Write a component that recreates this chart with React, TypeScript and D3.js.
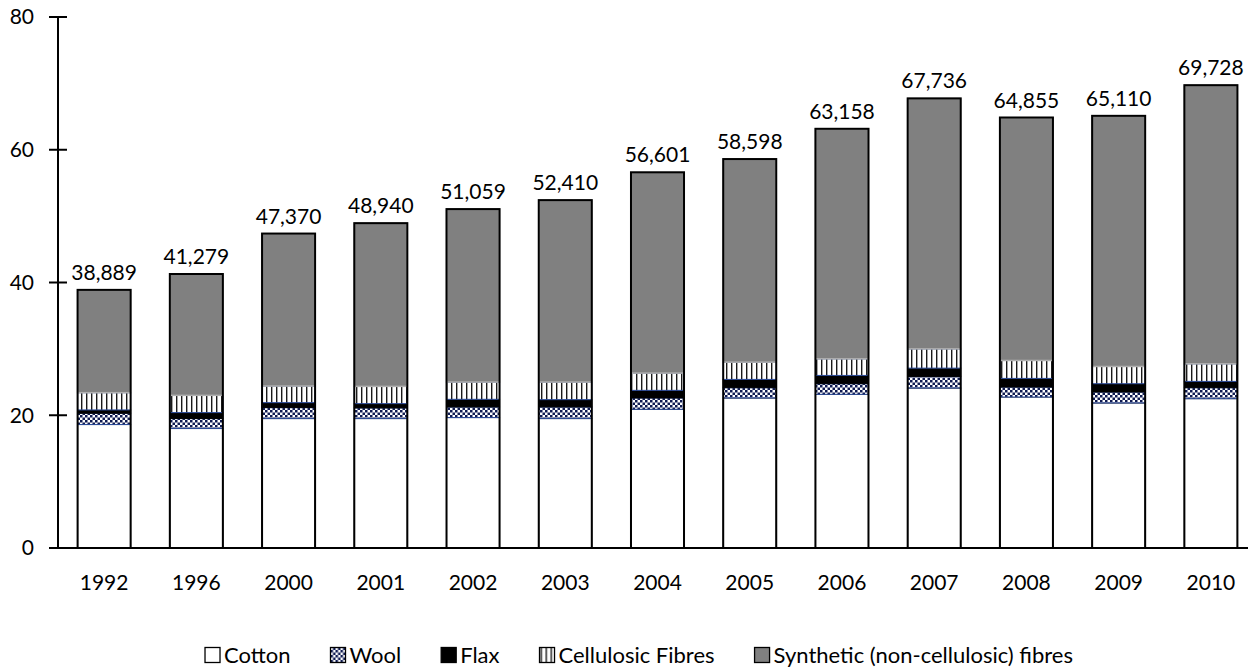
// World fibre consumption, stacked by fibre type (million tonnes).
// d3 draws everything into one svg through a ref; legend is laid out after
// measuring text so it centres the same way the source chart does.
import { useEffect, useRef } from "react";
import * as d3 from "d3";

const YEARS = ["1992", "1996", "2000", "2001", "2002", "2003", "2004", "2005", "2006", "2007", "2008", "2009", "2010"];
const FIBRES = ["Cotton", "Wool", "Flax", "Cellulosic Fibres", "Synthetic (non-cellulosic) fibres"];

const COTTON = [18.6, 18.0, 19.5, 19.5, 19.65, 19.5, 20.9, 22.6, 23.15, 24.1, 22.75, 21.85, 22.5];
const WOOL = [1.7, 1.5, 1.65, 1.6, 1.6, 1.75, 1.7, 1.55, 1.6, 1.75, 1.5, 1.65, 1.65];
const FLAX = [0.5, 0.9, 0.75, 0.65, 1.15, 1.1, 1.15, 1.25, 1.25, 1.25, 1.3, 1.25, 0.95];
const CELLULOSIC = [2.6, 2.6, 2.5, 2.6, 2.6, 2.65, 2.6, 2.6, 2.5, 2.9, 2.7, 2.6, 2.65];
const TOTALS = [38.889, 41.279, 47.37, 48.94, 51.059, 52.41, 56.601, 58.598, 63.158, 67.736, 64.855, 65.11, 69.728];
// synthetic is read as the remainder up to the printed total
const SYNTHETIC = [15.49, 18.28, 22.97, 24.59, 26.06, 27.41, 30.25, 30.6, 34.66, 37.74, 36.6, 37.76, 41.98];

const Y_TICKS = [0, 20, 40, 60, 80];

const FONT = "Lato, 'Open Sans', sans-serif";

export default function App() {
  const svgRef = useRef<SVGSVGElement>(null);

  useEffect(() => {
    const node = svgRef.current;
    if (!node) return;
    const svg = d3.select(node);
    svg.selectAll("*").remove();

    const W = 1248;
    const H = 670;

    const x = d3.scaleBand<string>().domain(YEARS).range([58, 1257]).paddingInner(0.425).paddingOuter(0.2125);
    const y = d3.scaleLinear().domain([0, 80]).range([548, 17]);

    // patterns
    const defs = svg.append("defs");
    const wool = defs.append("pattern").attr("id", "wool").attr("patternUnits", "userSpaceOnUse").attr("width", 5).attr("height", 5);
    wool.append("rect").attr("width", 5).attr("height", 5).attr("fill", "#ffffff");
    wool.append("rect").attr("x", 0).attr("y", 0).attr("width", 2.5).attr("height", 2.5).attr("fill", "#0f1b52");
    wool.append("rect").attr("x", 2.5).attr("y", 2.5).attr("width", 2.5).attr("height", 2.5).attr("fill", "#0f1b52");

    const cell = defs.append("pattern").attr("id", "cell").attr("patternUnits", "userSpaceOnUse").attr("width", 5).attr("height", 5);
    cell.append("rect").attr("width", 5).attr("height", 5).attr("fill", "#ffffff");
    cell.append("rect").attr("x", 1).attr("width", 1.4).attr("height", 5).attr("fill", "#1a1a1a");

    const fills = ["#ffffff", "url(#wool)", "#000000", "url(#cell)", "#808080"];

    const rows = YEARS.map((yr, i) => ({
      year: yr,
      Cotton: COTTON[i],
      Wool: WOOL[i],
      Flax: FLAX[i],
      "Cellulosic Fibres": CELLULOSIC[i],
      "Synthetic (non-cellulosic) fibres": SYNTHETIC[i],
    }));
    const series = d3.stack<any>().keys(FIBRES)(rows);

    // y axis
    svg.append("line").attr("x1", 58).attr("x2", 58).attr("y1", y(80)).attr("y2", y(0))
      .attr("stroke", "#000").attr("stroke-width", 2);
    Y_TICKS.forEach((t) => {
      svg.append("line").attr("x1", 49).attr("x2", 67).attr("y1", y(t)).attr("y2", y(t))
        .attr("stroke", "#000").attr("stroke-width", 2);
      svg.append("text").attr("x", 34).attr("y", y(t)).attr("dy", "0.35em")
        .attr("text-anchor", "end").attr("font-family", FONT).attr("font-size", 21)
        .attr("fill", "#000").text(t);
    });

    // bars
    const bw = x.bandwidth();
    series.forEach((s, k) => {
      svg.append("g").selectAll("rect").data(s).join("rect")
        .attr("x", (d: any) => x(d.data.year)!)
        .attr("y", (d) => y(d[1]))
        .attr("width", bw)
        .attr("height", (d) => y(d[0]) - y(d[1]))
        .attr("fill", fills[k])
        .attr("stroke", k === 4 ? "#b0b0b0" : k === 1 || k === 3 ? "#2a4a9a" : "#000")
        .attr("stroke-width", k === 4 ? 1.5 : 1);
    });
    // outer outline of each stacked column
    svg.append("g").selectAll("rect").data(YEARS).join("rect")
      .attr("x", (d) => x(d)!)
      .attr("y", (_, i) => y(TOTALS[i]))
      .attr("width", bw)
      .attr("height", (_, i) => y(0) - y(TOTALS[i]))
      .attr("fill", "none").attr("stroke", "#000").attr("stroke-width", 2);

    // totals
    svg.append("g").selectAll("text").data(YEARS).join("text")
      .attr("x", (d) => x(d)! + bw / 2)
      .attr("y", (_, i) => y(TOTALS[i]) - 10)
      .attr("text-anchor", "middle").attr("font-family", FONT).attr("font-size", 21).attr("fill", "#000")
      .text((_, i) => d3.format(",.0f")(TOTALS[i] * 1000));

    // x axis
    svg.append("line").attr("x1", 49).attr("x2", W).attr("y1", y(0)).attr("y2", y(0))
      .attr("stroke", "#000").attr("stroke-width", 2);
    svg.append("g").selectAll("text").data(YEARS).join("text")
      .attr("x", (d) => x(d)! + bw / 2).attr("y", 590)
      .attr("text-anchor", "middle").attr("font-family", FONT).attr("font-size", 21).attr("fill", "#000")
      .text((d) => d);

    // legend, centred
    const leg = svg.append("g");
    const sw = 15;
    const gap = 40;
    let cx = 0;
    FIBRES.forEach((f, k) => {
      const g = leg.append("g").attr("transform", `translate(${cx},0)`);
      g.append("rect").attr("x", 0).attr("y", -sw / 2).attr("width", sw).attr("height", sw)
        .attr("fill", fills[k]).attr("stroke", "#000").attr("stroke-width", 1.3);
      const t = g.append("text").attr("x", sw + 4).attr("y", 0).attr("dy", "0.35em")
        .attr("font-family", FONT).attr("font-size", 22).attr("fill", "#000").text(f);
      const tw = (t.node() as SVGTextElement).getComputedTextLength();
      cx += sw + 4 + tw + gap;
    });
    const total = cx - gap;
    leg.attr("transform", `translate(${639 - total / 2},655)`);

    svg.attr("width", W).attr("height", H);
  }, []);

  return (
    <svg
      ref={svgRef}
      width={1248}
      height={670}
      style={{ position: "fixed", left: 0, top: 0, background: "#fff", display: "block" }}
    />
  );
}
